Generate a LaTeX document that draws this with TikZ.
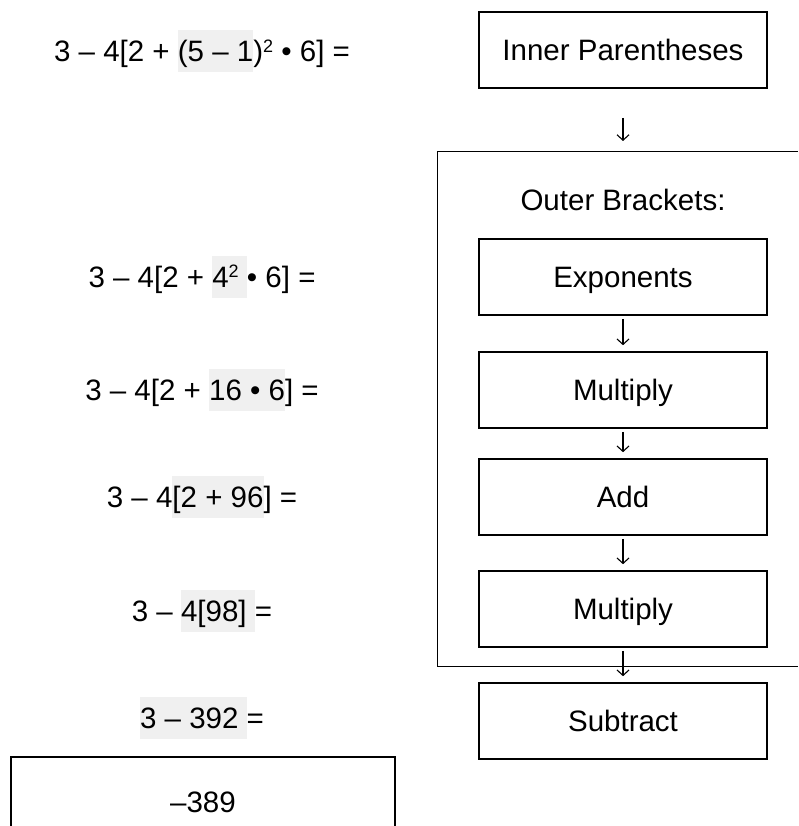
\documentclass[tikz,border=0pt]{standalone}
\usepackage{fontspec}
\setmainfont{Liberation Sans}
\usetikzlibrary{arrows.meta}
\definecolor{hlgray}{HTML}{F0F0F0}
\newcommand{\hlpart}[1]{{\setlength{\fboxsep}{0pt}\colorbox{hlgray}{\rule[-10.5pt]{0pt}{42pt}#1}}}
\newcommand{\supr}[1]{\raisebox{9.5pt}{\fontsize{18}{18}\selectfont #1}}
\begin{document}
\begin{tikzpicture}[x=1pt,y=-1pt,
  eqtext/.style={anchor=base, font=\fontsize{29.5}{35}\selectfont, inner sep=0pt},
  plaintext/.style={inner sep=0pt, font=\fontsize{29.5}{35}\selectfont, text height=21pt, text depth=0pt},
  stepbox/.style={draw, line width=1.6pt, minimum width=288pt, minimum height=76pt, inner sep=0pt, font=\fontsize{29.5}{35}\selectfont, text height=21pt, text depth=0pt},
  arr/.style={line width=1.1pt, -{Straight Barb[length=5.5pt,width=12pt]}}]
\useasboundingbox (0,0) rectangle (798,826);
% equations
\node[eqtext] (eq1) at (202,62) {3 – 4[2 + \hlpart{(5 – 1})\supr{2} • 6] =};
\node[eqtext] (eq2) at (202,287) {3 – 4[2 + \hlpart{4\supr{2} }• 6] =};
\node[eqtext] (eq3) at (202,400) {3 – 4[2 + \hlpart{16 • 6}] =};
\node[eqtext] (eq4) at (202,507) {3 – 4\hlpart{[2 + 96}] =};
\node[eqtext] (eq5) at (202,621) {3 – \hlpart{4[98] }=};
\node[eqtext] (eq6) at (202,728) {\hlpart{3 – 392 }=};
% steps
\node[stepbox] (inner) at (623,50) {Inner Parentheses};
\coordinate (outertop) at (623,152);
\node[plaintext] (outerlabel) at (623,200) {Outer Brackets:};
\node[stepbox] (exp) at (623,277) {Exponents};
\node[stepbox] (mul1) at (623,390) {Multiply};
\node[stepbox] (add) at (623,497) {Add};
\node[stepbox] (mul2) at (623,609) {Multiply};
\node[stepbox] (sub) at (623,721) {Subtract};
\draw[line width=1pt] (798,152) -- (437,152) -- (437,666) -- (798,666);
% result
\draw[line width=1.6pt] (11,826) -- (11,757) -- (395,757) -- (395,826);
\node[plaintext] (result) at (203,802) {–389};
% arrows
\draw[arr, shorten <=29pt, shorten >=11pt] (inner.south) -- (outertop);
\draw[arr, shorten <=3pt, shorten >=6pt] (exp) -- (mul1);
\draw[arr, shorten <=3pt, shorten >=6pt] (mul1) -- (add);
\draw[arr, shorten <=3pt, shorten >=6pt] (add) -- (mul2);
\draw[arr, shorten <=3pt, shorten >=6pt] (mul2) -- (sub);
\end{tikzpicture}
\end{document}
